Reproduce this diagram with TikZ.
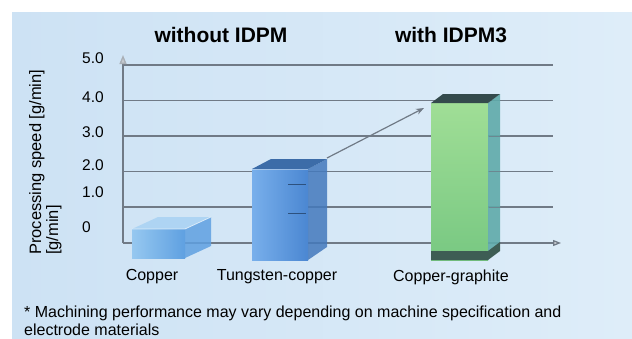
\documentclass[tikz,border=0pt]{standalone}
\usepackage{fontspec}
\setmainfont{Liberation Sans}
\usetikzlibrary{arrows.meta}
\definecolor{bgleft}{RGB}{205,226,244}
\definecolor{bgright}{RGB}{222,237,249}
\definecolor{gridgray}{RGB}{112,122,134}
\definecolor{cuA}{RGB}{150,200,240}
\definecolor{cuB}{RGB}{95,160,225}
\definecolor{wcA}{RGB}{120,175,235}
\definecolor{wcB}{RGB}{75,135,210}
\definecolor{cgA}{RGB}{160,222,150}
\definecolor{cgB}{RGB}{120,200,130}
\definecolor{cgside}{RGB}{95,170,170}
\definecolor{cgtop}{RGB}{52,74,76}

\begin{document}
\begin{tikzpicture}[x=1pt,y=-1pt,
    gridline/.style={draw=gridgray, line width=1.3pt},
    ticklabel/.style={anchor=west, inner sep=0pt, font=\fontsize{15.5}{18}\selectfont},
    barlabel/.style={inner sep=0pt, font=\fontsize{16}{19}\selectfont},
    titlelabel/.style={inner sep=0pt, font=\fontsize{21}{25}\selectfont\bfseries},
    glassfront/.style={rectangle, draw=none, inner sep=0pt, outer sep=0pt}]
\useasboundingbox (0,0) rectangle (632,338);
\fill[white] (0,0) rectangle (632,338);
\shade[left color=bgleft, right color=bgright] (12,12) rectangle (632,338);

% titles
\node[titlelabel] (notitle) at (221,35) {without IDPM};
\node[titlelabel] (withtitle) at (451,35) {with IDPM3};

% axes and grid
\coordinate (origin) at (123,243);
\coordinate (ytop) at (123,55);
\coordinate (xend) at (561,243);
\foreach \y in {65,100.5,136,171.5,207} {
    \draw[gridline] (123,\y) -- (553,\y);
}
\draw[gridline, -{Triangle[length=8pt,width=6pt,fill=gridgray!30]}] (origin) -- (xend);
\draw[gridline, -{Triangle[length=9pt,width=7pt,fill=gridgray!40,color=gridgray!60]}] (origin) -- (ytop);

\foreach \y/\val in {58/5.0, 97/4.0, 132/3.0, 165/2.0, 192/1.0, 227/0} {
    \node[ticklabel] (tick\val) at (82,\y) {\val};
}
\node[rotate=90, anchor=north west, align=left, inner sep=0pt,
      font=\fontsize{16.5}{17}\selectfont] (ytitle) at (29,255)
      {Processing speed [g/min]\\{}[g/min]};

% copper
\node[glassfront, left color=cuA, right color=cuB, minimum width=53pt, minimum height=29pt] (copper) at (158.5,243.5) {};
\fill[cuB, opacity=0.85] (copper.north east) -- ++(26,-12) -- ++(0,29) -- (copper.south east) -- cycle;
\fill[cuA!80!white, opacity=0.9] (copper.north west) -- ++(26,-12) -- ++(53,0) -- (copper.north east) -- cycle;
\draw[white, opacity=0.6, line width=0.8pt] (copper.north west) -- (copper.north east) -- ++(26,-12);

% tungsten-copper
\node[glassfront, left color=wcA, right color=wcB, minimum width=56pt, minimum height=91pt] (tungsten) at (280,214.5) {};
\fill[wcB!90!black, opacity=0.85] (tungsten.north east) -- ++(19,-10) -- ++(0,88) -- (tungsten.south east) -- cycle;
\fill[wcB!80!black] (tungsten.north west) -- ++(19,-10) -- ++(56,0) -- (tungsten.north east) -- cycle;
\draw[wcB!60!black, line width=1pt] (288,184) -- (306,184) (288,213) -- (306,213);
\draw[white, opacity=0.4, line width=0.8pt] (tungsten.north west) -- (tungsten.north east);

% copper-graphite
\node[glassfront, top color=cgA, bottom color=cgB, minimum width=57pt, minimum height=157pt] (graphite) at (459.5,181.5) {};
\fill[cgside, opacity=0.9] (graphite.north east) -- ++(12,-9) -- ++(0,148) -- (graphite.south east) -- cycle;
\fill[cgtop] (graphite.north west) -- ++(12,-9) -- ++(57,0) -- (graphite.north east) -- cycle;
\fill[cgtop!85!cgB] (graphite.south west) -- ++(0,-9) -- ++(57,0) -- ++(12,-9) -- ++(0,9) -- (graphite.south east) -- cycle;
\foreach \y in {136,171.5,207} {
    \draw[gridgray!70!cgside, line width=1pt] (489,\y) -- (500,\y);
}

% increase arrow
\coordinate (wctop) at (327,158);
\coordinate (cgtopleft) at (424,108);
\draw[gridgray, line width=1.2pt, -{Stealth[length=8pt,width=6pt]}] (wctop) -- (cgtopleft);

% bar labels
\node[barlabel] (lcopper) at (152,277) {Copper};
\node[barlabel] (ltungsten) at (277,277) {Tungsten-copper};
\node[barlabel] (lgraphite) at (451,277) {Copper-graphite};

% footnote
\node[anchor=west, align=left, inner sep=0pt, font=\fontsize{16}{18}\selectfont] (note) at (24,321)
    {* Machining performance may vary depending on machine specification and\\electrode materials};
\end{tikzpicture}
\end{document}
